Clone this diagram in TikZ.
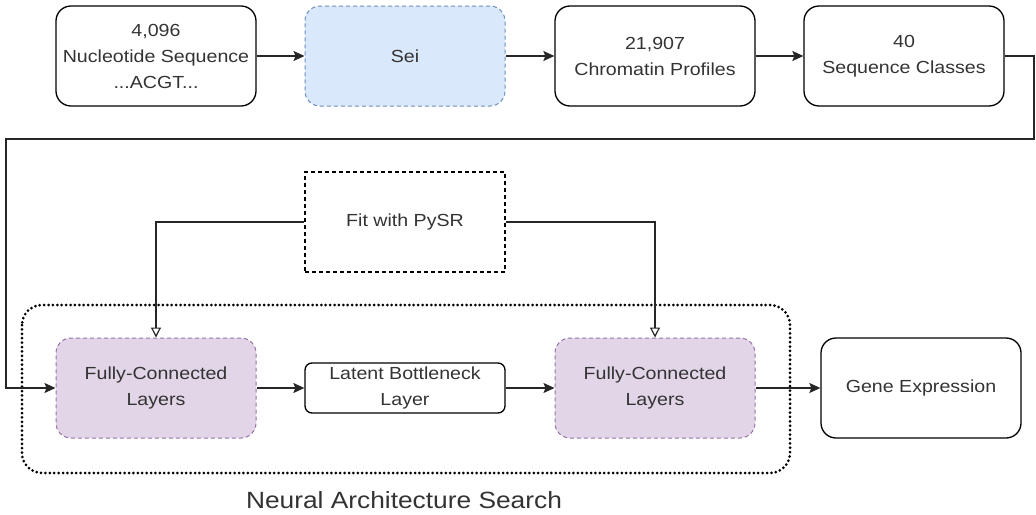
\documentclass[tikz,border=0pt]{standalone}
\usepackage{fontspec}
\setmainfont{Liberation Sans}[FakeStretch=1.12]
\usetikzlibrary{arrows.meta}
\definecolor{txt}{HTML}{333333}
\definecolor{seifill}{HTML}{DAE8FC}
\definecolor{seidraw}{HTML}{6C8EBF}
\definecolor{fcfill}{HTML}{E1D5E7}
\definecolor{fcdraw}{HTML}{9673A6}
\tikzset{
  box/.style={draw=black, line width=1.3pt, rounded corners=15pt, minimum width=200pt, minimum height=100pt, align=center, text=txt, font=\fontsize{17.5}{26}\selectfont, inner sep=0pt},
  seibox/.style={box, draw=seidraw, fill=seifill, dashed, line width=1pt, dash pattern=on 4pt off 3pt},
  fcbox/.style={box, draw=fcdraw, fill=fcfill, line width=1pt, dash pattern=on 4pt off 3pt},
  smallbox/.style={box, rounded corners=7pt, minimum height=50pt},
  fitbox/.style={box, rounded corners=0pt, line width=1.2pt, dash pattern=on 4pt off 3pt},
  conn/.style={line width=1.3pt, draw=black!85, -{Stealth[length=11pt,width=10pt,inset=2pt]}},
  fitconn/.style={line width=1.2pt, draw=black!85, -{Triangle[open,length=10pt,width=10pt,fill=white]}},
  plain/.style={line width=1.3pt, draw=black!85},
  container/.style={draw=black, line width=3pt, dash pattern=on 0pt off 4.4pt, line cap=round, rounded corners=20pt},
  lbl/.style={text=txt, font=\fontsize{23.5}{28}\selectfont}
}
\begin{document}
\begin{tikzpicture}[x=1pt,y=-1pt]
\useasboundingbox (0,0) rectangle (1036,514);
% container
\draw[container] (22,305) rectangle (790,473);
\node[lbl] (nas) at (404,500) {Neural Architecture Search};
% top row
\node[box] (nuc) at (156,56) {4,096\\Nucleotide Sequence\\...ACGT...};
\node[seibox] (sei) at (405,56) {Sei};
\node[box] (chr) at (655,56) {21,907\\Chromatin Profiles};
\node[box] (seq) at (904,56) {40\\Sequence Classes};
% bottom row
\node[fcbox] (fc1) at (156,388) {Fully-Connected\\Layers};
\node[smallbox] (lat) at (405,388) {Latent Bottleneck\\Layer};
\node[fcbox] (fc2) at (655,388) {Fully-Connected\\Layers};
\node[box] (gene) at (921,388) {Gene Expression};
\node[fitbox] (fit) at (405,222) {Fit with PySR};
\coordinate (c1) at (1034,56);
\coordinate (c2) at (1034,139);
\coordinate (c3) at (6,139);
\coordinate (c4) at (6,388);
% connectors
\draw[conn] (nuc) -- (sei);
\draw[conn] (sei) -- (chr);
\draw[conn] (chr) -- (seq);
\draw[conn] (seq.east) -- (c1) -- (c2) -- (c3) -- (c4) -- (fc1.west);
\draw[conn] (fc1) -- (lat);
\draw[conn] (lat) -- (fc2);
\draw[conn] (fc2) -- (gene);
\draw[fitconn] (fit.west) -| (fc1.north);
\draw[fitconn] (fit.east) -| (fc2.north);
\end{tikzpicture}
\end{document}
